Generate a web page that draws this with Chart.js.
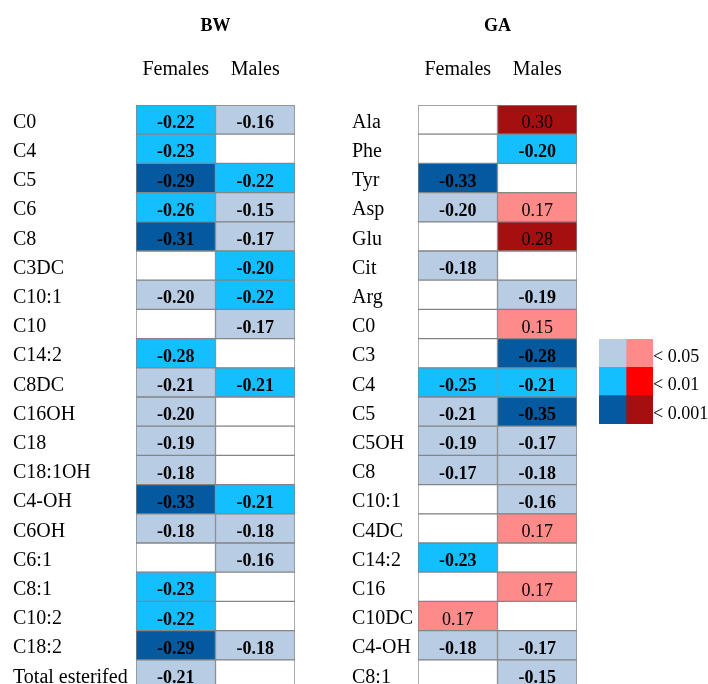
<!DOCTYPE html>
<html>
<head>
<meta charset="utf-8">
<script src="https://cdn.jsdelivr.net/npm/chart.js@4/dist/chart.umd.min.js"></script>
<style>
  html, body { margin: 0; padding: 0; background: #fff; overflow: hidden; width: 708px; height: 684px; }
  canvas { position: absolute; display: block; }
</style>
</head>
<body>
<canvas id="bw" width="300" height="689" style="left:0;top:0"></canvas>
<canvas id="ga" width="250" height="689" style="left:330px;top:0"></canvas>
<canvas id="key" width="118" height="94" style="left:590px;top:330px"></canvas>
<script>
// Column headers shared by both panels
const columns = ['Females', 'Males'];

// Significance classes (1: p < 0.05, 2: p < 0.01, 3: p < 0.001, 0: not significant)
const sigLabels = ['< 0.05', '< 0.01', '< 0.001'];

// BW panel
const bwRows = ['C0', 'C4', 'C5', 'C6', 'C8', 'C3DC', 'C10:1', 'C10', 'C14:2', 'C8DC',
  'C16OH', 'C18', 'C18:1OH', 'C4-OH', 'C6OH', 'C6:1', 'C8:1', 'C10:2', 'C18:2', 'Total esterifed'];
const bwFemales = [-0.22, -0.23, -0.29, -0.26, -0.31, null, -0.20, null, -0.28, -0.21,
  -0.20, -0.19, -0.18, -0.33, -0.18, null, -0.23, -0.22, -0.29, -0.21];
const bwFemalesSig = [2, 2, 3, 2, 3, 0, 1, 0, 2, 1,
  1, 1, 1, 3, 1, 0, 2, 2, 3, 1];
const bwMales = [-0.16, null, -0.22, -0.15, -0.17, -0.20, -0.22, -0.17, null, -0.21,
  null, null, null, -0.21, -0.18, -0.16, null, null, -0.18, null];
const bwMalesSig = [1, 0, 2, 1, 1, 2, 2, 1, 0, 2,
  0, 0, 0, 2, 1, 1, 0, 0, 1, 0];

// GA panel
const gaRows = ['Ala', 'Phe', 'Tyr', 'Asp', 'Glu', 'Cit', 'Arg', 'C0', 'C3', 'C4',
  'C5', 'C5OH', 'C8', 'C10:1', 'C4DC', 'C14:2', 'C16', 'C10DC', 'C4-OH', 'C8:1'];
const gaFemales = [null, null, -0.33, -0.20, null, -0.18, null, null, null, -0.25,
  -0.21, -0.19, -0.17, null, null, -0.23, null, 0.17, -0.18, null];
const gaFemalesSig = [0, 0, 3, 1, 0, 1, 0, 0, 0, 2,
  1, 1, 1, 0, 0, 2, 0, 1, 1, 0];
const gaMales = [0.30, -0.20, null, 0.17, 0.28, null, -0.19, 0.15, -0.28, -0.21,
  -0.35, -0.17, -0.18, -0.16, 0.17, null, 0.17, null, -0.17, -0.15];
const gaMalesSig = [3, 2, 0, 1, 3, 0, 1, 1, 3, 2,
  3, 1, 1, 1, 1, 0, 1, 0, 1, 1];

const SERIF = '"Liberation Serif", "Times New Roman", serif';
const NEG = ['#b8cce4', '#13bfff', '#04599f'];
const POS = ['#ff8a8a', '#ff0000', '#a60f0f'];

function cellColor(v, sig) {
  if (v == null || !sig) return '#ffffff';
  return (v < 0 ? NEG : POS)[sig - 1];
}

// Writes each coefficient in the centre of its cell
const cellValues = {
  id: 'cellValues',
  afterDatasetsDraw(chart) {
    const ctx = chart.ctx;
    ctx.save();
    ctx.textAlign = 'center';
    ctx.textBaseline = 'middle';
    ctx.fillStyle = '#000';
    chart.data.datasets.forEach((ds, d) => {
      if (!ds.values) return;
      chart.getDatasetMeta(d).data.forEach((bar, i) => {
        const v = ds.values[i];
        if (v == null) return;
        const p = bar.getCenterPoint();
        ctx.font = (v < 0 ? 'bold ' : '') + '18px ' + SERIF;
        ctx.fillText(v.toFixed(2), p.x, p.y + 4);
      });
    });
    ctx.restore();
  }
};

function noPad(s) { s.paddingTop = 0; s.paddingBottom = 0; s.paddingLeft = 0; s.paddingRight = 0; }

function heatPanel(id, title, rows, series, pad) {
  return new Chart(document.getElementById(id), {
    type: 'bar',
    data: {
      labels: rows,
      datasets: series.map(([vals, sig], c) => ({
        label: columns[c],
        data: rows.map(() => [c, c + 1]),
        values: vals,
        backgroundColor: (ctx) => cellColor(vals[ctx.dataIndex], sig[ctx.dataIndex]),
        borderColor: '#858585',
        borderWidth: 1,
        borderSkipped: false,
        barPercentage: 1,
        categoryPercentage: 1,
        grouped: false
      }))
    },
    options: {
      indexAxis: 'y',
      responsive: false,
      animation: false,
      events: [],
      layout: { padding: { left: pad.left, right: pad.right, top: 0, bottom: 0 } },
      plugins: { legend: { display: false }, tooltip: { enabled: false } },
      scales: {
        x: {
          type: 'linear', position: 'top', min: 0, max: 2,
          grid: { display: false, drawTicks: false }, border: { display: false },
          afterBuildTicks: (s) => { s.ticks = columns.map((_, i) => ({ value: i + 0.5 })); },
          afterFit: (s) => { s.height = 105; noPad(s); },
          ticks: {
            callback: (v, i) => columns[i], autoSkip: false, maxRotation: 0,
            font: { family: SERIF, size: 20 }, color: '#000', padding: 23
          },
          title: {
            display: true, text: title, color: '#000',
            font: { family: SERIF, size: 18, weight: 'bold' }, padding: { top: 16, bottom: 0 }
          }
        },
        y: {
          type: 'category', offset: true,
          grid: { display: false, drawTicks: false }, border: { display: false },
          afterFit: (s) => { s.width = pad.axis; noPad(s); },
          ticks: {
            crossAlign: 'far', autoSkip: false, padding: 0, labelOffset: 3,
            font: { family: SERIF, size: 20 }, color: '#000'
          }
        }
      }
    },
    plugins: [cellValues]
  });
}

heatPanel('bw', 'BW', bwRows, [[bwFemales, bwFemalesSig], [bwMales, bwMalesSig]],
  { left: 13, right: 5, axis: 123 });
heatPanel('ga', 'GA', gaRows, [[gaFemales, gaFemalesSig], [gaMales, gaMalesSig]],
  { left: 22, right: 3, axis: 66 });

// Colour key: negative / positive shades by significance class
new Chart(document.getElementById('key'), {
  type: 'bar',
  data: {
    labels: sigLabels,
    datasets: [NEG, POS].map((pal, c) => ({
      data: sigLabels.map(() => [c, c + 1]),
      backgroundColor: pal,
      borderWidth: 0,
      barPercentage: 1,
      categoryPercentage: 1,
      grouped: false
    }))
  },
  options: {
    indexAxis: 'y',
    responsive: false,
    animation: false,
    events: [],
    layout: { padding: { left: 9, top: 9, right: 0, bottom: 0 } },
    plugins: { legend: { display: false }, tooltip: { enabled: false } },
    scales: {
      x: { type: 'linear', min: 0, max: 2, display: false },
      y: {
        position: 'right',
        grid: { display: false, drawTicks: false }, border: { display: false },
        afterFit: (s) => { s.width = 55; noPad(s); },
        ticks: { crossAlign: 'near', padding: 0, labelOffset: 4, font: { family: SERIF, size: 18 }, color: '#000' }
      }
    }
  }
});
</script>
</body>
</html>
